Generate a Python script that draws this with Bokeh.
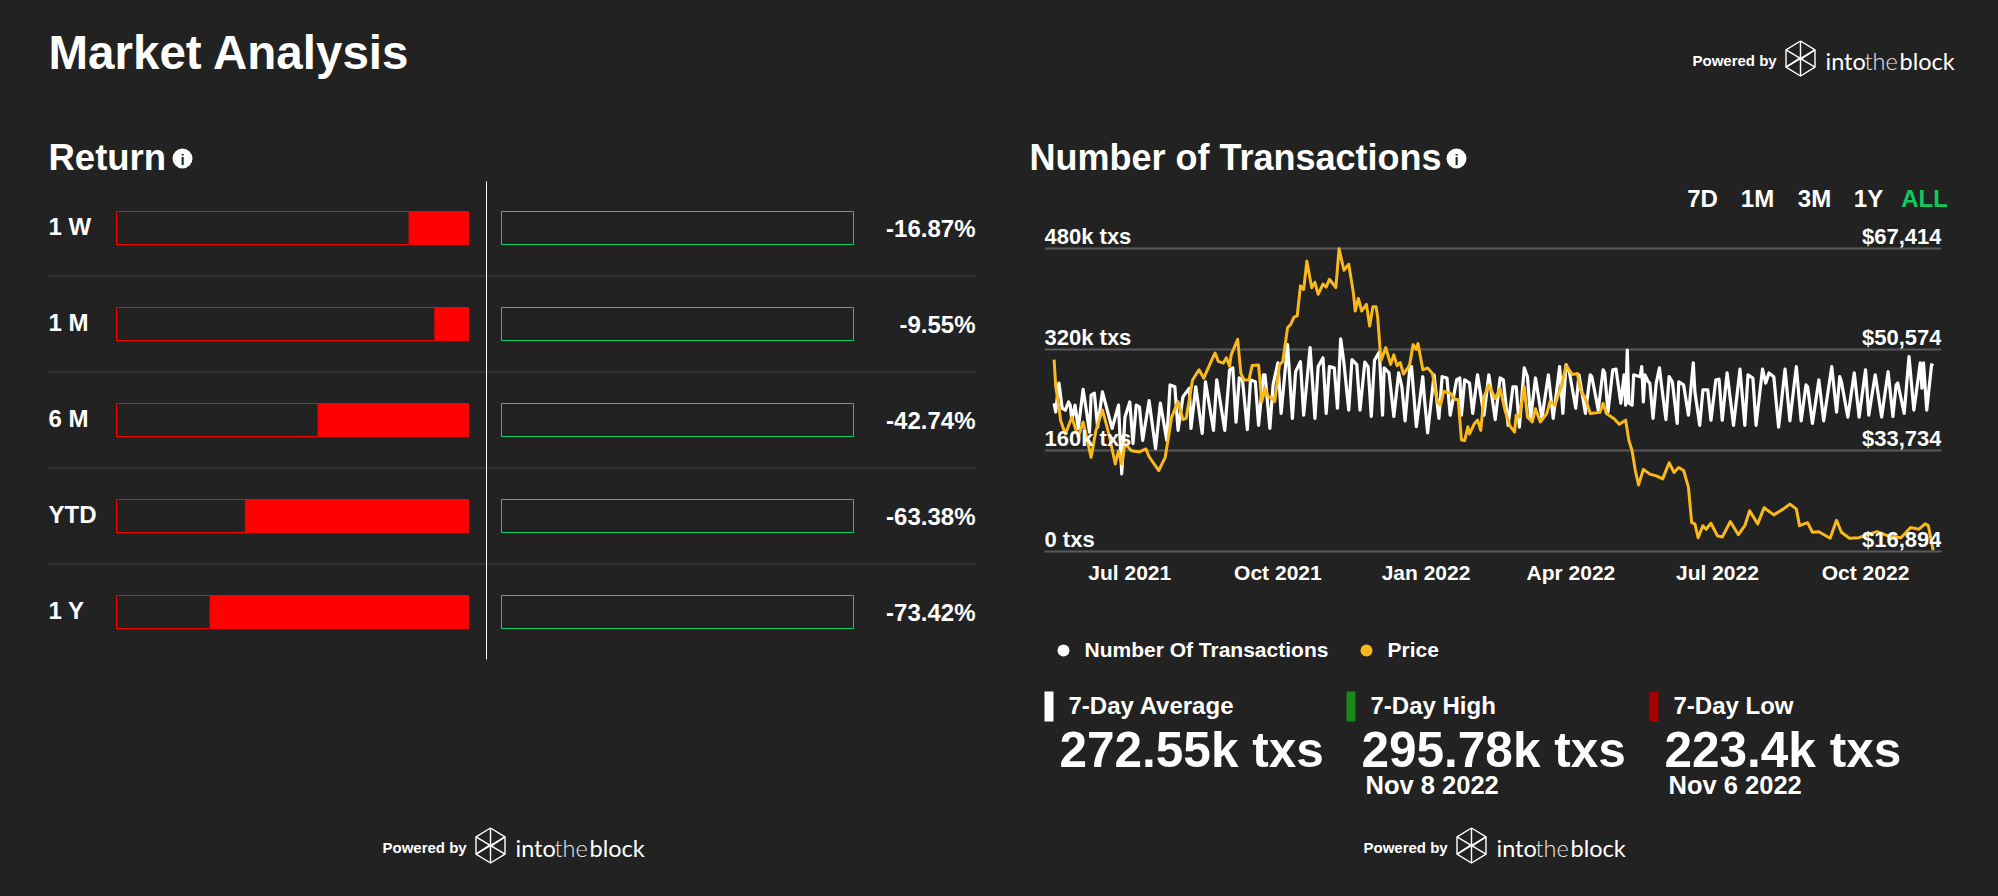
from datetime import date, datetime, timedelta
from bokeh.plotting import figure
from bokeh.layouts import row, column
from bokeh.models import Range1d, FixedTicker, Grid, DatetimeTickFormatter, ColumnDataSource
from bokeh.core.properties import value
from bokeh.embed import file_html
from bokeh.resources import INLINE

# ---------- data ----------
return_periods = ["1 W", "1 M", "6 M", "YTD", "1 Y"]
return_values = [-16.87, -9.55, -42.74, -63.38, -73.42]

series_start = date(2021, 5, 14)
tx_days = [1,2,3,4,6,8,10,11,12,14,16,19,21,23,24,26,28,31,34,37,41,43,45,48,50,52,54,56,60,64,67,71,73,76,78,81,85,86,89,93,95,100,102,107,
110,112,114,116,118,121,123,126,128,131,132,135,137,140,142,146,149,151,154,156,160,163,165,168,170,172,175,177,179,181,184,186,189,191,194,196,198,200,203,205,206,209,212,215,217,219,
222,223,226,230,231,233,237,240,242,245,247,251,253,254,256,259,261,264,268,271,275,278,280,283,286,288,290,293,295,297,300,304,308,311,315,317,319,321,325,327,331,
334,335,339,342,343,345,348,350,353,355,356,357,358,360,361,365,366,367,368,370,371,373,375,377,378,381,383,385,388,389,392,395,398,399,402,404,407,409,412,414,416,419,423,427,430,432,435,437,441,443,
445,448,451,455,458,462,465,468,469,472,476,479,484,487,489,490,494,498,501,505,507,511,515,519,522,524,525,529,532,535,539,540,541,543,546,547]
tx_thousands = [235,221,245,267,227,224,237,232,208,232,195,257,224,189,248,251,197,253,224,195,232,123,213,237,171,232,229,176,239,163,235,176,264,261,192,245,259,195,261,187,269,192,272,192,
288,291,205,275,272,193,272,269,200,280,280,195,264,299,219,328,211,285,301,216,323,211,293,307,219,293,291,227,337,299,224,304,296,224,300,293,214,303,316,216,291,283,214,283,261,207,
293,293,198,277,243,188,280,211,277,275,216,272,275,216,272,267,219,280,216,280,209,275,272,200,261,261,197,291,277,211,275,211,280,211,293,219,296,285,227,280,219,
280,277,224,288,283,221,288,289,235,280,232,319,235,232,280,277,293,237,280,269,267,211,267,291,269,209,277,269,203,269,264,216,299,253,200,256,256,208,272,273,208,283,200,289,200,280,275,200,289,267,
283,277,197,289,207,293,207,264,261,203,272,207,293,221,277,269,213,283,213,288,216,280,213,285,214,264,267,219,309,224,299,259,299,224,296,294]

price_days = [1,2,4,5,8,12,16,19,24,27,31,35,39,41,43,45,49,54,58,60,66,70,74,78,81,83,87,91,94,99,101,103,106,108,110,
111,115,117,119,122,124,128,130,132,134,137,138,141,143,146,148,150,152,154,156,158,161,163,165,168,170,172,176,178,181,184,187,188,190,192,195,197,199,201,202,204,207,210,212,214,216,218,221,
222,224,226,227,230,233,236,239,241,243,247,250,252,254,256,258,259,262,264,266,268,271,275,278,281,284,287,288,290,293,295,298,300,303,307,309,312,316,319,323,326,328,331,334,
340,342,344,349,352,356,358,360,362,364,367,371,375,379,383,386,389,392,395,397,399,401,404,406,409,413,416,421,426,430,433,438,442,448,454,458,462,464,469,472,476,483,487,490,495,501,512,519,527,533,538,542,544,547]
price_thousands = [48.9,44.4,41.0,38.8,36.5,39.3,36.0,38.5,32.6,37.1,40.5,36.5,31.5,33.7,31.5,34.9,33.7,33.5,34.0,32.7,30.4,32.6,39.3,41.9,38.9,39.1,45.5,47.2,45.8,48.9,50.0,48.6,48.3,49.2,47.8,
49.7,52.3,46.6,45.5,45.5,47.9,48.0,41.9,44.1,42.7,42.4,41.9,48.0,48.6,54.2,54.8,56.0,56.2,61.2,60.6,65.3,60.9,61.8,59.8,61.5,61.0,62.3,60.9,67.4,63.8,64.8,59.8,57.0,59.1,57.0,58.1,54.5,57.7,57.7,55.9,48.7,50.9,48.1,49.7,47.9,48.4,46.5,47.6,
48.3,51.4,50.6,51.6,47.2,47.5,46.6,41.9,41.3,43.6,43.3,42.3,42.2,35.5,35.4,37.7,36.5,38.2,38.8,37.1,42.7,44.7,42.4,44.1,40.5,37.9,36.8,39.6,39.3,44.4,39.3,38.5,40.7,38.5,39.9,41.9,41.3,44.4,47.9,46.4,46.6,43.8,42.4,39.9,
40.1,41.6,39.9,39.0,38.1,38.8,35.4,33.7,30.4,28.0,30.6,29.8,29.5,29.0,31.7,30.1,30.9,30.4,27.6,21.7,21.5,19.2,21.2,20.6,21.6,19.5,19.3,21.9,19.7,21.2,23.7,21.5,24.2,23.0,24.0,24.8,24.0,21.2,21.7,20.1,20.2,19.1,22.1,20.1,19.1,19.2,20.2,19.5,19.2,20.9,20.6,21.5,21.2,17.1]

tx_ticks = [0, 160, 320, 480]
tx_tick_labels = ["0 txs", "160k txs", "320k txs", "480k txs"]
price_tick_labels = ["$16,894", "$33,734", "$50,574", "$67,414"]
price_ticks = [16894, 33734, 50574, 67414]
x_tick_dates = [date(2021, 7, 1), date(2021, 10, 1), date(2022, 1, 1), date(2022, 4, 1), date(2022, 7, 1), date(2022, 10, 1)]
range_buttons = ["7D", "1M", "3M", "1Y", "ALL"]
legend_names = ["Number Of Transactions", "Price"]
stat_titles = ["7-Day Average", "7-Day High", "7-Day Low"]
stat_values = ["272.55k txs", "295.78k txs", "223.4k txs"]
stat_dates = ["", "Nov 8 2022", "Nov 6 2022"]

# ---------- style ----------
BG = "#222222"
GOLD = "#F9B81C"
FONT = "Liberation Sans"
LOGO_FONT = "Lato"


def ms(d):
    return datetime(d.year, d.month, d.day).timestamp() * 1000


def decor(x0, x1, y0, y1):
    """A figure whose default ranges are page pixels, for titles and furniture."""
    return figure(width=x1 - x0, height=y1 - y0, x_range=Range1d(x0, x1), y_range=Range1d(y1, y0),
                  x_axis_location=None, y_axis_location=None, toolbar_location=None,
                  output_backend="svg", background_fill_color=BG, border_fill_color=BG,
                  outline_line_color=None, min_border=0, frame_align=False)


def txt(p, x, y, s, size, color="#ffffff", align="left", style="bold", font=FONT):
    p.xgrid.visible = False
    p.ygrid.visible = False
    p.text(x=[x], y=[y], text=[s], text_font=value(font), text_font_style=style,
           text_font_size=f"{size}px", text_color=color, text_align=align, text_baseline="middle")


def info_icon(p, x, y):
    p.circle(x=[x], y=[y], radius=10, fill_color="#ffffff", line_color=None)
    txt(p, x, y + 0.5, "i", 15, BG, "center")


def powered_by(p, x, y):
    txt(p, x, y, "Powered by", 15)
    cx, cy = x + 108, y - 2
    w, h, m = 14.5, 17.5, 8.7
    hexx = [0, w, w, 0, -w, -w, 0]
    hexy = [-h, -m, m, h, m, -m, -h]
    inner = [([-w, w], [-m, m]), ([w, -w], [-m, m]), ([0, 0], [-h, -m * 0.1]), ([0, 0], [m * 0.1, h]),
             ([-w, 0], [m, -m * 0.1]), ([w, 0], [-m, m * 0.1])]
    xs = [[cx + v for v in hexx]] + [[cx + v for v in a] for a, b in inner]
    ys = [[cy + v for v in hexy]] + [[cy + v for v in b] for a, b in inner]
    p.multi_line(xs, ys, line_color="#ffffff", line_width=1.4, line_join="round")
    txt(p, x + 133, y, "into", 23.5, "#ffffff", style="normal", font=LOGO_FONT)
    txt(p, x + 172, y, "the", 23.5, "#e8e8e8", style="normal", font="Lato Light")
    txt(p, x + 207, y, "block", 23.5, "#ffffff", style="normal", font=LOGO_FONT)


# ---------- left panel ----------
PX_PCT = 352 / 100
L_X0, L_X1, L_Y0, L_Y1 = 8, 1000, 8, 888
left = decor(L_X0, L_X1, L_Y0, L_Y1)
txt(left, 49, 52, "Market Analysis", 47.5)
txt(left, 49, 157, "Return", 36.5)
info_icon(left, 183, 158)

# value ranges that span the whole frame, so bars land through their own scales
NEG0, POS0 = 469, 502
left.extra_x_ranges = {
    "neg": Range1d((L_X0 - NEG0) / PX_PCT, (L_X1 - NEG0) / PX_PCT),
    "pos": Range1d((L_X0 - POS0) / PX_PCT, (L_X1 - POS0) / PX_PCT),
}
ROW0, ROW_H = 227.5, 96
left.extra_y_ranges = {"row": Range1d((L_Y1 - ROW0) / ROW_H, (L_Y0 - ROW0) / ROW_H)}
rows = list(range(len(return_periods)))
BAR_H = 33 / ROW_H

# separators sit between rows
seps = [r + 0.5 for r in rows[:-1]]
left.multi_line([[49, 976]] * len(seps), [[ROW0 + s * ROW_H] * 2 for s in seps], line_color="#383838", line_width=1.5)
left.segment(x0=[487], x1=[487], y0=[181], y1=[659], line_color="#ffffff", line_width=1)

left.hbar(y=rows, left=[-100] * 5, right=[0] * 5, height=BAR_H, x_range_name="neg", y_range_name="row",
          fill_color=None, line_color="#ff0000", line_width=1)
left.hbar(y=rows, left=return_values, right=[0] * 5, height=BAR_H, x_range_name="neg", y_range_name="row",
          fill_color="#ff0000", line_color="#ff0000", line_width=1)
left.hbar(y=rows, left=[0] * 5, right=[100] * 5, height=BAR_H, x_range_name="pos", y_range_name="row",
          fill_color=None, line_color="#10d060", line_width=1)

for r, name, val in zip(rows, return_periods, return_values):
    yc = ROW0 + r * ROW_H
    txt(left, 49, yc - 2, name, 24)
    txt(left, 976, yc, f"{val:.2f}%", 24, align="right")
powered_by(left, 383, 847)

# ---------- right top ----------
R_X0, R_X1 = 1000, 1990
CH_Y0, CH_Y1 = 225, 600
rtop = decor(R_X0, R_X1, 8, CH_Y0)
txt(rtop, 1030, 157, "Number of Transactions", 36)
info_icon(rtop, 1457, 158)
powered_by(rtop, 1693, 60)
for name, cx in zip(range_buttons, [1703, 1758, 1815, 1869, 1925]):
    txt(rtop, cx, 198, name, 24, "#10C95F" if name == "ALL" else "#ffffff", "center")

# ---------- chart ----------
FRAME_L, FRAME_R, FRAME_B = 1045, 1942, 551
PX_PER_DAY = 1.61
LINE_X0 = 1053
PX_PER_K = 0.631
day_ms = 86400000.0
x_start = ms(series_start) + (FRAME_L - LINE_X0) / PX_PER_DAY * day_ms
x_end = ms(series_start) + (FRAME_R - LINE_X0) / PX_PER_DAY * day_ms
y_top = (FRAME_B - CH_Y0) / PX_PER_K
price_per_k = (price_ticks[-1] - price_ticks[0]) / tx_ticks[-1]

chart = figure(width=R_X1 - R_X0, height=CH_Y1 - CH_Y0, x_axis_type="datetime", y_axis_location=None,
               x_range=Range1d(x_start, x_end), y_range=Range1d(0, y_top),
               toolbar_location=None, output_backend="svg", background_fill_color=BG, border_fill_color=BG,
               outline_line_color=None, min_border_left=FRAME_L - R_X0, min_border_right=R_X1 - FRAME_R,
               min_border_top=0, min_border_bottom=CH_Y1 - FRAME_B, frame_align=False)
chart.extra_y_ranges = {"price": Range1d(price_ticks[0], price_ticks[0] + y_top * price_per_k)}
chart.xgrid.visible = False
chart.ygrid.visible = False
chart.add_layout(Grid(dimension=1, ticker=FixedTicker(ticks=tx_ticks), grid_line_color="#5a5a5a", grid_line_width=2))
ax = chart.xaxis[0]
ax.ticker = FixedTicker(ticks=[ms(d) for d in x_tick_dates])
ax.formatter = DatetimeTickFormatter(days="%b %Y", months="%b %Y", years="%b %Y", hours="%b %Y")
ax.major_tick_line_color = None
ax.minor_tick_line_color = None
ax.axis_line_color = "#5a5a5a"
ax.axis_line_width = 2
ax.major_label_text_color = "#ffffff"
ax.major_label_text_font = FONT
ax.major_label_text_font_style = "bold"
ax.major_label_text_font_size = "21px"
ax.major_label_standoff = 3

tx_src = ColumnDataSource(dict(x=[ms(series_start) + d * day_ms for d in tx_days], y=tx_thousands))
price_src = ColumnDataSource(dict(x=[ms(series_start) + d * day_ms for d in price_days], y=[v * 1000 for v in price_thousands]))
chart.line("x", "y", source=tx_src, line_color="#ffffff", line_width=3.2, line_join="round")
chart.line("x", "y", source=price_src, y_range_name="price", line_color=GOLD, line_width=3, line_join="round")
chart.text(x=[x_start] * 4, y=tx_ticks, text=tx_tick_labels, y_offset=0, text_font=value(FONT), text_font_style="bold",
           text_font_size="22px", text_color="#ffffff", text_align="left", text_baseline="bottom")
chart.text(x=[x_end] * 4, y=price_ticks, text=price_tick_labels, y_range_name="price", y_offset=0, text_font=value(FONT),
           text_font_style="bold", text_font_size="22px", text_color="#ffffff", text_align="right", text_baseline="bottom")

# ---------- right bottom ----------
rbot = decor(R_X0, R_X1, CH_Y1, L_Y1)
rbot.circle(x=[1064], y=[650], radius=6, fill_color="#ffffff", line_color=None)
rbot.circle(x=[1367], y=[650], radius=6, fill_color=GOLD, line_color=None)
txt(rbot, 1085, 649, legend_names[0], 21)
txt(rbot, 1388, 649, legend_names[1], 21)
bar_x = [1045, 1347, 1650]
bar_colors = ["#ffffff", "#178a17", "#a80000"]
for i, bx in enumerate(bar_x):
    rbot.quad(left=[bx], right=[bx + 9], top=[691], bottom=[721], fill_color=bar_colors[i], line_color=None)
    txt(rbot, bx + 24, 705, stat_titles[i], 24)
    txt(rbot, bx + 15, 749, stat_values[i], 49.5)
    if stat_dates[i]:
        txt(rbot, bx + 19, 784, stat_dates[i], 25.5)
powered_by(rbot, 1364, 847)

page = row(left, column(rtop, chart, rbot, spacing=0), spacing=0)

PAGE = """{% block preamble %}<style>html{margin:0 !important;height:auto !important;background:#222222;overflow:hidden;}
body{margin:8px 8px 8px 7px !important;height:auto !important;background:#222222;}</style>{% endblock %}
"""
open("out.html", "w").write(file_html(page, INLINE, template=PAGE))
